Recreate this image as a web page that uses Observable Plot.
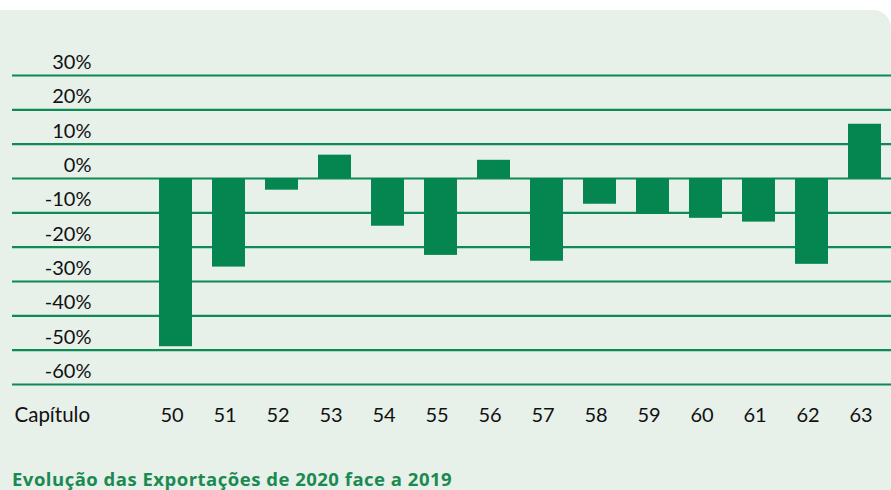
<!DOCTYPE html>
<html>
<head>
<meta charset="utf-8">
<script src="https://cdn.jsdelivr.net/npm/d3@7"></script>
<script src="https://cdn.jsdelivr.net/npm/@observablehq/plot@0.6"></script>
<style>
  html, body { margin: 0; padding: 0; background: #ffffff; }
  #box {
    position: absolute; left: 0; top: 10px; width: 891px; height: 480px;
    background: #e7f0e9; border-top-right-radius: 18px; overflow: hidden;
  }
  #chart { position: absolute; left: 0; top: 0; }
  #caption {
    position: absolute; left: 12px; top: 455.5px;
    font-family: "Open Sans", Lato, sans-serif; font-weight: 700; font-size: 18.5px;
    color: #1a8a52; white-space: nowrap; letter-spacing: 0.5px;
  }
</style>
</head>
<body>
<div id="box">
  <div id="chart"></div>
  <div id="caption">Evolução das Exportações de 2020 face a 2019</div>
</div>
<script>
const chapters = ["50","51","52","53","54","55","56","57","58","59","60","61","62","63"];
const changes = [-49, -25.8, -3.4, 6.8, -13.9, -22.4, 5.3, -24.1, -7.5, -10.3, -11.6, -12.7, -25, 15.8];
const yTicks = [30, 20, 10, 0, -10, -20, -30, -40, -50, -60];
const xHeader = "Capítulo";

const data = chapters.map((c, i) => ({cap: c, value: changes[i]}));

const chart = Plot.plot({
  width: 891,
  height: 430,
  marginLeft: 12,
  marginRight: 0,
  marginTop: 65,
  marginBottom: 56,
  style: {fontFamily: "Lato, 'Open Sans', sans-serif", fontSize: "20px", color: "#111", background: "transparent"},
  x: {domain: chapters, range: [137, 902], paddingInner: 0.38, paddingOuter: 0.38, label: null},
  y: {domain: [-60, 30], label: null},
  marks: [
    Plot.ruleY(yTicks, {stroke: "#0e8a55", strokeWidth: 2.2}),
    Plot.barY(data, {x: "cap", y: "value", fill: "#05854f"}),
    Plot.axisY(yTicks, {anchor: "left", tickSize: 0, tickPadding: 0, dx: 79, dy: -13,
      tickFormat: d => d + "%", textAnchor: "end", fill: "#111", label: null}),
    Plot.axisX({anchor: "bottom", tickSize: 0, tickPadding: 23, dx: -4, fill: "#111", label: null}),
    Plot.text([xHeader], {frameAnchor: "bottom-left", textAnchor: "start", lineAnchor: "top",
      dx: 2, dy: 23, fill: "#111", fontSize: 20.5})
  ]
});
document.getElementById("chart").appendChild(chart);
</script>
</body>
</html>
